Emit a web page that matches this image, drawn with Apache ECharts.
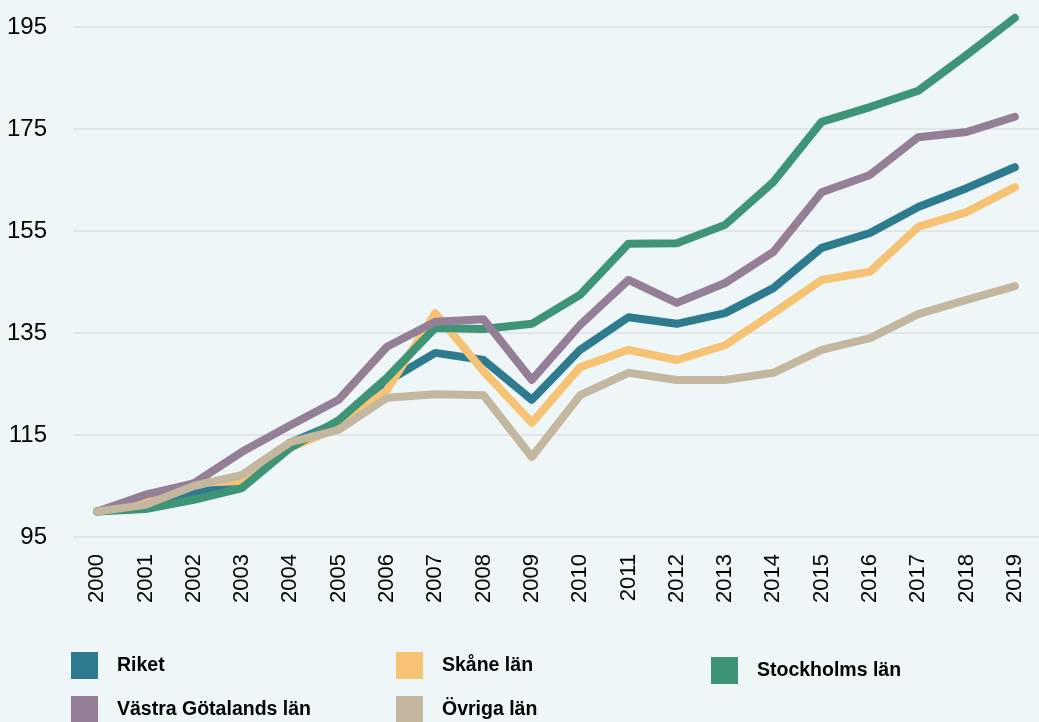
<!DOCTYPE html>
<html>
<head>
<meta charset="utf-8">
<script src="https://cdn.jsdelivr.net/npm/echarts@6/dist/echarts.min.js"></script>
<style>
	html, body { margin: 0; padding: 0; background: #eef6f8; }
	#main { width: 1039px; height: 722px; }
</style>
</head>
<body>
<div id="main"></div>
<script>
// år
const years = ['2000', '2001', '2002', '2003', '2004', '2005', '2006', '2007', '2008', '2009',
	'2010', '2011', '2012', '2013', '2014', '2015', '2016', '2017', '2018', '2019'];

// index, 2000 = 100
const riket = [100, 101.2, 103.5, 106.2, 113.5, 117.5, 125.5, 131.1, 129.7, 121.9,
	131.7, 138.1, 136.8, 138.9, 143.8, 151.7, 154.6, 159.7, 163.4, 167.5];
const skane = [100, 101.8, 105.6, 106.0, 112.5, 116.5, 123.8, 138.9, 127.5, 117.4,
	128.3, 131.7, 129.7, 132.6, 138.9, 145.4, 147.0, 155.8, 158.7, 163.6];
const stockholm = [100, 100.5, 102.3, 104.6, 112.5, 117.9, 126.2, 136.0, 135.8, 136.8,
	142.5, 152.5, 152.6, 156.2, 164.6, 176.4, 179.3, 182.5, 189.5, 196.8];
const vastra = [100, 103.3, 105.5, 111.7, 116.9, 121.9, 132.3, 137.2, 137.7, 125.8,
	136.6, 145.4, 140.9, 144.8, 150.9, 162.6, 166.0, 173.4, 174.4, 177.4];
const ovriga = [100, 101.3, 105.0, 107.2, 113.6, 116.0, 122.3, 123.0, 122.8, 110.7,
	122.8, 127.2, 125.8, 125.8, 127.2, 131.7, 134.0, 138.7, 141.5, 144.2];

const seriesNames = ['Riket', 'Skåne län', 'Stockholms län', 'Västra Götalands län', 'Övriga län'];
const seriesData = [riket, skane, stockholm, vastra, ovriga];
const colors = ['#2e7b8f', '#f5c373', '#3e9477', '#947f96', '#c4b7a0'];

const font = '"Liberation Sans", Arial, sans-serif';

function makeSeries(i) {
	return {
		name: seriesNames[i],
		type: 'line',
		data: seriesData[i],
		symbol: 'none',
		clip: false,
		color: colors[i],
		itemStyle: { color: colors[i] },
		lineStyle: { width: 8, color: colors[i], cap: 'round', join: 'round' }
	};
}

// en legend per serie, så att de hamnar i rutnät
function makeLegend(name, left, top) {
	return {
		data: [name],
		left: left,
		top: top,
		icon: 'rect',
		itemWidth: 27,
		itemHeight: 27,
		padding: 0,
		selectedMode: false,
		textStyle: {
			fontFamily: font,
			fontWeight: 'bold',
			fontSize: 19.5,
			color: '#000',
			padding: [0, 0, 0, 14]
		}
	};
}

var myChart = echarts.init(document.getElementById('main'));
var option = {
	backgroundColor: '#eef6f8',
	animation: false,
	grid: {
		left: 73,
		right: -14,
		top: 27,
		bottom: 185,
		containLabel: false
	},
	legend: [
		makeLegend('Riket', 71, 652),
		makeLegend('Västra Götalands län', 71, 696),
		makeLegend('Skåne län', 396, 652),
		makeLegend('Övriga län', 396, 696),
		makeLegend('Stockholms län', 711, 657)
	],
	xAxis: {
		type: 'category',
		data: years,
		boundaryGap: true,
		axisLine: { show: false },
		axisTick: { show: false },
		axisLabel: {
			rotate: 90,
			margin: 17,
			fontFamily: font,
			fontSize: 22,
			color: '#000'
		}
	},
	yAxis: {
		type: 'value',
		min: 95,
		max: 195,
		interval: 20,
		axisLine: { show: false },
		axisTick: { show: false },
		axisLabel: {
			margin: 26,
			fontFamily: font,
			fontSize: 24,
			color: '#000'
		},
		splitLine: { lineStyle: { color: '#dcdfe2', width: 1.5 } }
	},
	series: [0, 1, 2, 3, 4].map(makeSeries)
};
myChart.setOption(option);
</script>
</body>
</html>
